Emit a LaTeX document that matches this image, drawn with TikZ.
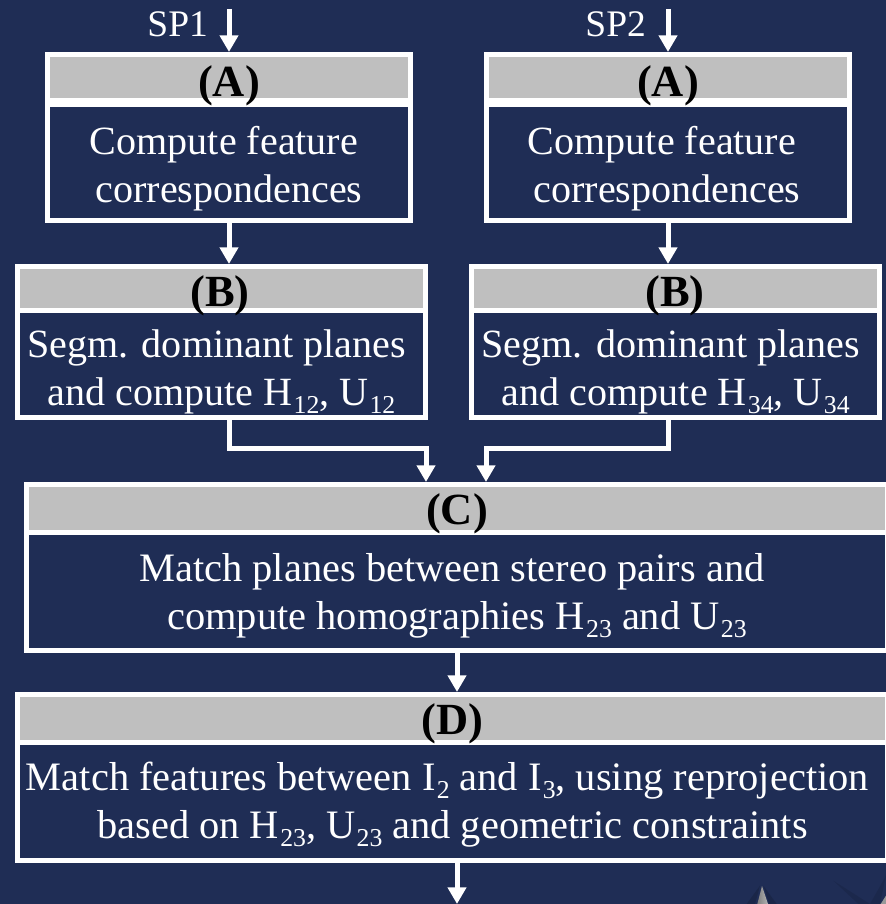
\documentclass[tikz,border=0pt]{standalone}
\usepackage{fontspec}
\setmainfont{Liberation Serif}
\usetikzlibrary{arrows.meta}
\definecolor{slidebg}{RGB}{31,45,85}
\definecolor{headgrey}{RGB}{191,191,191}
\newcommand{\lowidx}[1]{\kern.03em\raisebox{-.2em}{\fontsize{22}{22}\selectfont #1}}
\tikzset{
framebox/.style={rectangle,draw=white,line width=0.15cm,inner sep=0pt},
headbox/.style={framebox,fill=headgrey},
bodytext/.style={text=white,font=\fontsize{34.2}{41}\selectfont,align=center,inner sep=0pt},
widetext/.style={bodytext,font=\fontsize{34.5}{41}\selectfont},
sptext/.style={text=white,font=\fontsize{32}{40}\selectfont,inner sep=0pt,anchor=base},
headtext/.style={text=black,font=\fontsize{38}{40}\selectfont\bfseries,inner sep=0pt,anchor=base},
flow/.style={draw=white,line width=0.15cm,-{Triangle[length=0.5cm,width=0.54cm]}}
}
\begin{document}
\begin{tikzpicture}
\fill[slidebg] (0,0) rectangle (26.58,27.12);
\useasboundingbox (0,0) rectangle (26.58,27.12);
% corner of the slide artwork
\fill[black,opacity=0.15] (22.4,0) -- (22.8,0.55) -- (22.65,0) -- cycle;
\fill[black,opacity=0.15] (23.3,0) -- (22.9,0.55) -- (23.08,0) -- cycle;
\fill[black,opacity=0.1] (25.75,0) -- (25,0.7) -- (26.1,0) -- cycle;
\fill[black,opacity=0.1] (26.1,0) -- (26.58,0.85) -- (26.4,0) -- cycle;
\shade[left color=black!50,right color=black!30] (22.72,0) -- (22.86,0.54) -- (23.04,0) -- cycle;
\fill[black!40] (26.58,0) -- (26.58,0.25) -- (26.42,0) -- cycle;
% stages A
\node[framebox,minimum width=10.89cm,minimum height=4.98cm] (a1) at (6.87,22.995) {};
\node[headbox,minimum width=10.89cm,minimum height=1.395cm] (a1head) at (6.87,24.7875) {};
\draw[white,line width=0.24cm] (a1head.south west) -- (a1head.south east);
\node[headtext] (a1label) at (6.87,24.21) {(A)};
\node[bodytext] (a1text) at (6.87,22.05) {Compute feature\kern.25em\\correspondences};
\node[framebox,minimum width=10.89cm,minimum height=4.98cm] (a2) at (20.04,22.995) {};
\node[headbox,minimum width=10.89cm,minimum height=1.395cm] (a2head) at (20.04,24.7875) {};
\draw[white,line width=0.24cm] (a2head.south west) -- (a2head.south east);
\node[headtext] (a2label) at (20.04,24.21) {(A)};
\node[bodytext] (a2text) at (20.01,22.05) {Compute feature\kern.25em\\correspondences};
% stages B
\node[framebox,minimum width=12.24cm,minimum height=4.53cm] (b1) at (6.645,16.86) {};
\node[headbox,minimum width=12.24cm,minimum height=1.335cm] (b1head) at (6.645,18.4575) {};
\node[headtext] (b1label) at (6.6,17.91) {(B)};
\node[bodytext] (b1text) at (6.645,15.96) {Segm. dominant planes\kern.25em\\and compute H\lowidx{12}, U\lowidx{12}};
\node[framebox,minimum width=12.24cm,minimum height=4.53cm] (b2) at (20.25,16.86) {};
\node[headbox,minimum width=12.24cm,minimum height=1.335cm] (b2head) at (20.25,18.4575) {};
\node[headtext] (b2label) at (20.25,17.91) {(B)};
\node[bodytext] (b2text) at (20.275,15.96) {Segm. dominant planes\kern.25em\\and compute H\lowidx{34}, U\lowidx{34}};
% stage C
\node[framebox,minimum width=25.83cm,minimum height=4.98cm] (c) at (13.71,10.095) {};
\node[headbox,minimum width=25.83cm,minimum height=1.44cm] (chead) at (13.71,11.865) {};
\node[headtext] (clabel) at (13.71,11.37) {(C)};
\node[widetext] (ctext) at (13.71,9.255) {Match planes between stereo pairs and\kern.25em\\compute homographies H\lowidx{23} and U\lowidx{23}};
% stage D
\node[framebox,minimum width=26.1cm,minimum height=4.98cm] (d) at (13.575,3.795) {};
\node[headbox,minimum width=26.1cm,minimum height=1.44cm] (dhead) at (13.575,5.565) {};
\node[headtext] (dlabel) at (13.575,5.07) {(D)};
\node[widetext] (dtext) at (13.575,2.97) {Match features between I\lowidx{2} and I\lowidx{3}, using reprojection\kern.25em\\based on H\lowidx{23}, U\lowidx{23} and geometric constraints};
% input labels
\node[sptext] (sp1) at (5.33,26.01) {SP1};
\node[sptext] (sp2) at (18.47,26.01) {SP2};
\coordinate (in1) at (6.87,26.85);
\coordinate (in2) at (20.04,26.85);
\coordinate (out) at (13.71,0);
\coordinate (join1) at (12.78,13.65);
\coordinate (join2) at (14.58,13.65);
% arrows
\draw[flow] (in1) -- (a1.north);
\draw[flow] (in2) -- (a2.north);
\draw[flow] (a1.south) -- (a1.south |- b1.north);
\draw[flow] (a2.south) -- (a2.south |- b2.north);
\draw[flow] (a1.south |- b1.south) |- (join1) -- (join1 |- c.north);
\draw[flow] (a2.south |- b2.south) |- (join2) -- (join2 |- c.north);
\draw[flow] (c.south) -- (d.north -| c.south);
\draw[flow] (c.south |- d.south) -- (out);
\end{tikzpicture}
\end{document}
